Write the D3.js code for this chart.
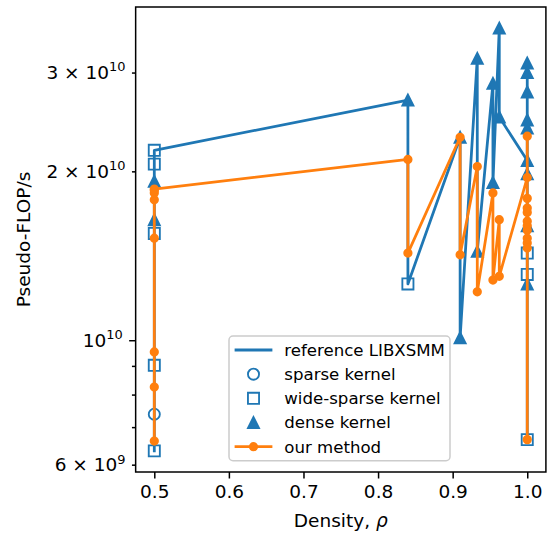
<!DOCTYPE html>
<html>
<head>
<meta charset="utf-8">
<script src="https://cdn.jsdelivr.net/npm/d3@7"></script>
<style>
  body { margin: 0; background: #fff; }
  text { font-family: "DejaVu Sans", sans-serif; fill: #000; }
</style>
</head>
<body>
<div id="chart"></div>
<script>
// one entry per benchmark matrix, grouped by density
var density = [
  0.5, 0.5, 0.5, 0.5, 0.5, 0.5, 0.5, 0.5,
  0.84, 0.84,
  0.91, 0.91,
  0.933, 0.933,
  0.954, 0.954,
  0.9625, 0.9625,
  1.0, 1.0, 1.0, 1.0, 1.0, 1.0, 1.0, 1.0, 1.0, 1.0, 1.0, 1.0
];
var libxsmm = [
  6.35e9, 7.38e9, 9.02e9, 1.55e10, 1.64e10, 1.92e10, 2.06e10, 2.18e10,
  2.68e10, 1.26e10,
  2.30e10, 1.01e10,
  3.18e10, 1.44e10,
  2.87e10, 1.91e10,
  3.60e10, 2.50e10,
  2.09e10, 3.12e10, 3.00e10, 2.77e10, 2.47e10, 2.39e10, 1.98e10, 1.60e10, 1.43e10, 1.31e10, 1.26e10, 6.65e9
];
// kernel picked: s = sparse, w = wide-sparse, d = dense
var kernel = [
  'w', 's', 'w', 'w', 'd', 'd', 'w', 'w',
  'd', 'w',
  'd', 'd',
  'd', 'd',
  'd', 'd',
  'd', 'd',
  'd', 'd', 'd', 'd', 'd', 'd', 'd', 'd', 'w', 'w', 'd', 'w'
];
var ours = [
  6.61e9, 8.25e9, 9.53e9, 1.52e10, 1.78e10, 1.83e10, 1.85e10, 1.86e10,
  2.10e10, 1.43e10,
  2.30e10, 1.42e10,
  2.04e10, 1.22e10,
  1.83e10, 1.28e10,
  1.64e10, 1.30e10,
  1.95e10, 2.31e10, 1.79e10, 1.72e10, 1.69e10, 1.63e10, 1.60e10, 1.57e10, 1.52e10, 1.49e10, 1.46e10, 6.65e9
];

var xTicks = [0.5, 0.6, 0.7, 0.8, 0.9, 1.0];
var yMajor = [1e10];
var yMinor = [6e9, 7e9, 8e9, 9e9, 2e10, 3e10];
var yLabels = [
  { v: 6e9, m: '6 × 10', e: '9' },
  { v: 1e10, m: '10', e: '10' },
  { v: 2e10, m: '2 × 10', e: '10' },
  { v: 3e10, m: '3 × 10', e: '10' }
];

var blue = '#1f77b4', orange = '#ff7f0e';
var width = 548, height = 538;
var axL = 135.65, axR = 545.9, axT = 7, axB = 472;
var fs = 18.5, legFs = 16.6;
var lw = 2.77, ms = 11.1, mew = 1.85;

var svg = d3.select('#chart').append('svg')
  .attr('width', width)
  .attr('height', height);

// matplotlib-like 5% margins
var xe = d3.extent(density);
var xPad = (xe[1] - xe[0]) * 0.05;
var x = d3.scaleLinear()
  .domain([xe[0] - xPad, xe[1] + xPad])
  .range([axL, axR]);

var all = libxsmm.concat(ours);
var le = d3.extent(all).map(Math.log10);
var lPad = (le[1] - le[0]) * 0.05;
var y = d3.scaleLog()
  .domain([Math.pow(10, le[0] - lPad), Math.pow(10, le[1] + lPad)])
  .range([axB, axT]);

var pts = density.map(function (d, i) {
  return { x: d, ref: libxsmm[i], k: kernel[i], our: ours[i] };
});

var line = d3.line();

// reference line
svg.append('path')
  .attr('fill', 'none')
  .attr('stroke', blue)
  .attr('stroke-width', lw)
  .attr('stroke-linejoin', 'round')
  .attr('stroke-linecap', 'square')
  .attr('d', line(pts.map(function (p) { return [x(p.x), y(p.ref)]; })));

function triPath(s) {
  var h = s / 2;
  return 'M0,' + (-h) + 'L' + (-h) + ',' + h + 'L' + h + ',' + h + 'Z';
}
function sqPath(s) {
  var h = s / 2;
  return 'M' + (-h) + ',' + (-h) + 'H' + h + 'V' + h + 'H' + (-h) + 'Z';
}

function drawMarker(g, k) {
  if (k === 'd') {
    g.append('path').attr('d', triPath(ms))
      .attr('fill', blue).attr('stroke', blue).attr('stroke-width', mew);
  } else if (k === 'w') {
    g.append('path').attr('d', sqPath(ms))
      .attr('fill', 'none').attr('stroke', blue).attr('stroke-width', mew);
  } else {
    g.append('circle').attr('r', ms / 2)
      .attr('fill', 'none').attr('stroke', blue).attr('stroke-width', mew);
  }
}

var marks = svg.append('g');
['s', 'w', 'd'].forEach(function (k) {
  pts.filter(function (p) { return p.k === k; }).forEach(function (p) {
    var g = marks.append('g')
      .attr('transform', 'translate(' + x(p.x) + ',' + y(p.ref) + ')');
    drawMarker(g, k);
  });
});

// our method
svg.append('path')
  .attr('fill', 'none')
  .attr('stroke', orange)
  .attr('stroke-width', lw)
  .attr('stroke-linejoin', 'round')
  .attr('stroke-linecap', 'square')
  .attr('d', line(pts.map(function (p) { return [x(p.x), y(p.our)]; })));

svg.append('g').selectAll('circle')
  .data(pts)
  .enter().append('circle')
  .attr('cx', function (p) { return x(p.x); })
  .attr('cy', function (p) { return y(p.our); })
  .attr('r', 3.7)
  .attr('fill', orange)
  .attr('stroke', orange)
  .attr('stroke-width', mew);

// x axis
var xAxis = svg.append('g')
  .attr('transform', 'translate(0,' + axB + ')')
  .call(d3.axisBottom(x)
    .tickValues(xTicks)
    .tickFormat(d3.format('.1f'))
    .tickSize(6.5)
    .tickPadding(6.5)
    .tickSizeOuter(0));
xAxis.select('.domain').remove();
xAxis.selectAll('line').attr('stroke', '#000').attr('stroke-width', 1.5);
xAxis.selectAll('text')
  .attr('font-size', fs)
  .attr('font-family', '"DejaVu Sans", sans-serif')
  .attr('fill', '#000');

// y axis ticks
var yAxis = svg.append('g')
  .attr('transform', 'translate(' + axL + ',0)')
  .call(d3.axisLeft(y)
    .tickValues(yMajor.concat(yMinor))
    .tickFormat('')
    .tickSizeOuter(0));
yAxis.select('.domain').remove();
yAxis.selectAll('.tick line')
  .attr('stroke', '#000')
  .attr('stroke-width', 1.5)
  .attr('x2', function (d) { return yMajor.indexOf(d) >= 0 ? -6.5 : -3.7; });

var yl = svg.append('g');
yLabels.forEach(function (t) {
  var isMajor = yMajor.indexOf(t.v) >= 0;
  var tx = yl.append('text')
    .attr('x', axL - (isMajor ? 13 : 10.2))
    .attr('y', y(t.v))
    .attr('dy', '0.36em')
    .attr('text-anchor', 'end')
    .attr('font-size', fs);
  tx.append('tspan').text(t.m);
  tx.append('tspan')
    .attr('font-size', fs * 0.7)
    .attr('dy', -fs * 0.42)
    .text(t.e);
});

// spines
svg.append('rect')
  .attr('x', axL).attr('y', axT)
  .attr('width', axR - axL).attr('height', axB - axT)
  .attr('fill', 'none').attr('stroke', '#000').attr('stroke-width', 1.5);

// axis labels
var xl = svg.append('text')
  .attr('x', (axL + axR) / 2)
  .attr('y', 526.7)
  .attr('text-anchor', 'middle')
  .attr('font-size', fs);
xl.append('tspan').text('Density, ');
xl.append('tspan').attr('font-style', 'italic').text('ρ');

svg.append('text')
  .attr('transform', 'translate(29.5,' + ((axT + axB) / 2) + ') rotate(-90)')
  .attr('text-anchor', 'middle')
  .attr('font-size', fs)
  .text('Pseudo-FLOP/s');

// legend
var legendItems = [
  { label: 'reference LIBXSMM', type: 'line' },
  { label: 'sparse kernel', type: 's' },
  { label: 'wide-sparse kernel', type: 'w' },
  { label: 'dense kernel', type: 'd' },
  { label: 'our method', type: 'ours' }
];
var lg = svg.append('g');
lg.append('rect')
  .attr('x', 229).attr('y', 336)
  .attr('width', 221).attr('height', 124.7)
  .attr('rx', 4).attr('ry', 4)
  .attr('fill', '#fff').attr('fill-opacity', 0.8)
  .attr('stroke', '#cccccc').attr('stroke-width', 1.5);

legendItems.forEach(function (it, i) {
  var cy = 350 + i * 24.17;
  var row = lg.append('g');
  if (it.type === 'line' || it.type === 'ours') {
    row.append('line')
      .attr('x1', 236).attr('x2', 271)
      .attr('y1', cy).attr('y2', cy)
      .attr('stroke', it.type === 'line' ? blue : orange)
      .attr('stroke-width', lw)
      .attr('stroke-linecap', 'square');
    if (it.type === 'ours') {
      row.append('circle')
        .attr('cx', 253.5).attr('cy', cy).attr('r', 3.7)
        .attr('fill', orange).attr('stroke', orange).attr('stroke-width', mew);
    }
  } else {
    var g = row.append('g').attr('transform', 'translate(253.5,' + cy + ')');
    drawMarker(g, it.type);
  }
  row.append('text')
    .attr('x', 284.3)
    .attr('y', cy)
    .attr('dy', '0.36em')
    .attr('font-size', legFs)
    .text(it.label);
});
</script>
</body>
</html>
